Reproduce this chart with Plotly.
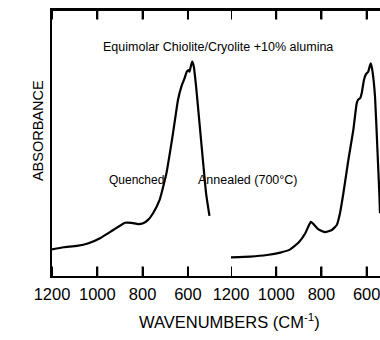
import plotly.graph_objects as go

# Quenched spectrum (wavenumber cm-1, absorbance arb.)
quenched_wn = [1200, 1149, 1090, 1039, 988, 937, 900, 878, 849, 820, 798, 776, 754,
               725, 695, 666, 644, 629, 615, 605, 597, 593, 586, 581, 574, 564, 549,
               534, 520, 505]
quenched_abs = [0.100, 0.108, 0.113, 0.123, 0.142, 0.169, 0.189, 0.200, 0.200, 0.195,
                0.198, 0.211, 0.236, 0.286, 0.386, 0.536, 0.662, 0.712, 0.743, 0.768,
                0.774, 0.768, 0.793, 0.806, 0.787, 0.712, 0.574, 0.436, 0.311, 0.226]

# Annealed (700 C) spectrum
annealed_wn = [1200, 1115, 1041, 982, 938, 902, 872, 857, 847, 835, 813, 784, 754,
               732, 718, 703, 681, 659, 644, 637, 629, 622, 612, 603, 593, 585, 581,
               574, 563, 553, 544, 541]
annealed_abs = [0.070, 0.073, 0.079, 0.088, 0.100, 0.125, 0.160, 0.188, 0.204, 0.195,
                0.175, 0.165, 0.173, 0.192, 0.236, 0.311, 0.436, 0.549, 0.649, 0.664,
                0.668, 0.687, 0.737, 0.759, 0.768, 0.793, 0.799, 0.768, 0.674, 0.486,
                0.311, 0.236]

tick_vals = [1200, 1000, 800, 600]
tick_text = ["1200", "1000", "800", "600"]

FONT = "Liberation Sans, Arial, sans-serif"

fig = go.Figure()
fig.add_trace(go.Scatter(x=quenched_wn, y=quenched_abs, mode="lines",
                         line=dict(color="black", width=2.2, shape="spline", smoothing=0.4),
                         xaxis="x", yaxis="y", showlegend=False))
fig.add_trace(go.Scatter(x=annealed_wn, y=annealed_abs, mode="lines",
                         line=dict(color="black", width=2.2, shape="spline", smoothing=0.4),
                         xaxis="x2", yaxis="y", showlegend=False))

split = (231 - 52) / 328
axis_common = dict(showline=True, linecolor="black", linewidth=2, mirror="allticks",
                   ticks="inside", ticklen=9, tickwidth=2, tickcolor="black",
                   tickmode="array", tickvals=tick_vals, ticktext=tick_text,
                   showgrid=False, zeroline=False,
                   tickangle=0, automargin=False, ticklabelstandoff=2,
                   ticklabeloverflow="allow",
                   tickfont=dict(family=FONT, size=16.5, color="black"))

# tick marks (bottom and top) placed at the tick values on each x axis
tick_len = 0.036
shapes = []
for xr in ("x", "x2"):
    for v in tick_vals:
        shapes.append(dict(type="line", xref=xr, yref="y domain", x0=v, x1=v,
                           y0=0, y1=tick_len, line=dict(color="black", width=2)))
        shapes.append(dict(type="line", xref=xr, yref="y domain", x0=v, x1=v,
                           y0=1 - tick_len, y1=1, line=dict(color="black", width=2)))
# top frame line
shapes.append(dict(type="line", xref="paper", yref="paper", x0=0, x1=1, y0=1, y1=1,
                   line=dict(color="black", width=2)))

fig.update_layout(
    width=380, height=340,
    margin=dict(l=52, r=0, t=10, b=64),
    paper_bgcolor="white", plot_bgcolor="white",
    xaxis=dict(domain=[0, split], range=[1200, 410], anchor="y", **axis_common),
    xaxis2=dict(domain=[split, 1], range=[1200, 541], anchor="y", **axis_common),
    yaxis=dict(range=[0, 1], showline=True, linecolor="black", linewidth=2,
               ticks="", showticklabels=False, showgrid=False, zeroline=False,
               automargin=False),
    shapes=shapes,
    annotations=[
        dict(text="Equimolar Chiolite/Cryolite +10% alumina", x=0.506, y=0.895,
             xref="paper", yref="paper", showarrow=False,
             font=dict(family=FONT, size=12.5, color="black")),
        dict(text="Quenched", x=0.168, y=0.361, xref="paper", yref="paper",
             showarrow=False, font=dict(family=FONT, size=12, color="black")),
        dict(text="Annealed (700°C)", x=0.756, y=0.361, xref="paper", yref="paper",
             showarrow=False, font=dict(family=FONT, size=12.5, color="black")),
        dict(text="ABSORBANCE", x=-0.073, y=0.545, xref="paper", yref="paper",
             showarrow=False, textangle=-90,
             font=dict(family=FONT, size=14.5, color="black")),
        dict(text="WAVENUMBERS (CM<sup>-1</sup>)", x=0.540, y=-0.215,
             xref="paper", yref="paper", showarrow=False,
             font=dict(family=FONT, size=16.5, color="black")),
    ],
)

fig.write_html("out.html",
               config={"displayModeBar": False},
               post_script="document.body.style.margin='0px';"
                           "document.body.style.overflow='hidden';")
